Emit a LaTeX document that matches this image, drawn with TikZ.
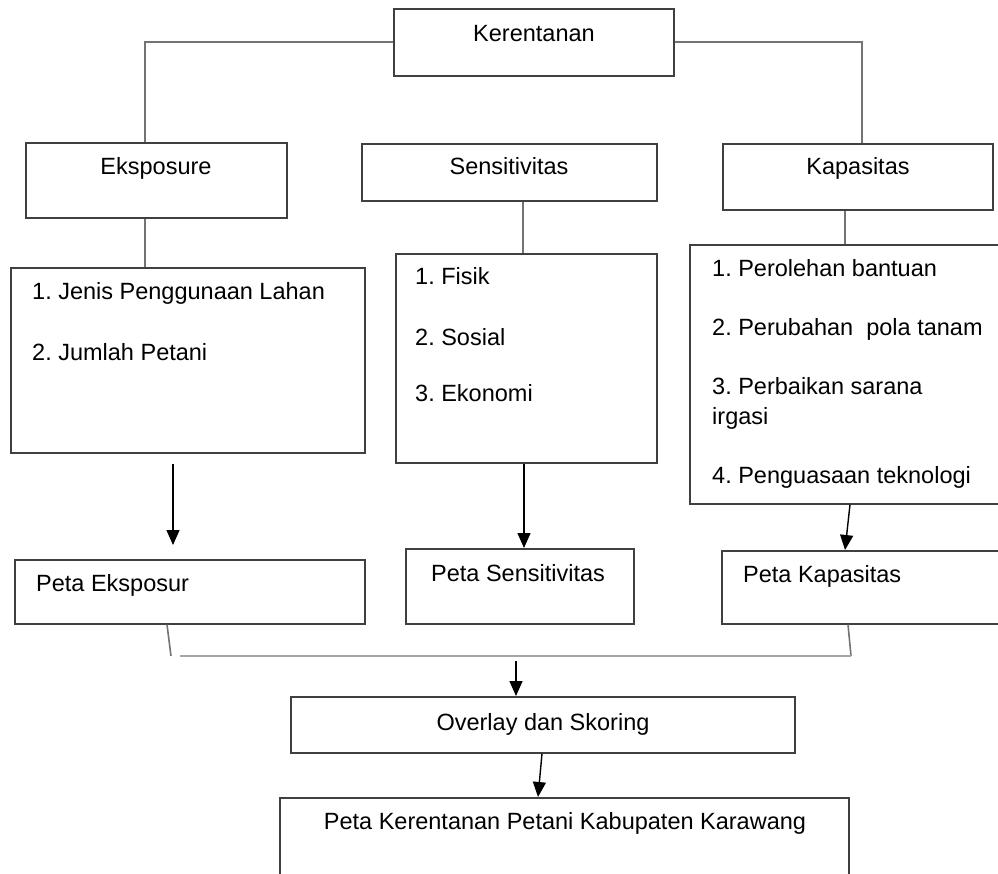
\documentclass[tikz,border=0pt]{standalone}
\usepackage{fontspec}
\setmainfont{Liberation Sans}
\usetikzlibrary{arrows.meta,calc}
\frenchspacing
\begin{document}
\begin{tikzpicture}[x=1pt,y=-1pt,
  box/.style={draw=black!75, line width=1.6pt, inner sep=0pt, anchor=north west},
  lbl/.style={inner sep=0pt, font=\fontsize{23.5}{28}\selectfont},
  conn/.style={draw=black!55, line width=1.6pt},
  arr/.style={draw=black, line width=1.4pt, -{Triangle[length=15pt,width=13pt]}},
  merge/.style={draw=black!35, line width=2.6pt}]
\useasboundingbox (0,0) rectangle (998,874);
\clip (0,0) rectangle (998,874);

% boxes
\node[box, minimum width=280pt, minimum height=67pt] (ker) at (393,8) {};
\node[box, minimum width=261pt, minimum height=75pt] (eks) at (25,142) {};
\node[box, minimum width=295pt, minimum height=57pt] (sen) at (361,143) {};
\node[box, minimum width=270pt, minimum height=66pt] (kap) at (722,143) {};
\node[box, minimum width=354pt, minimum height=185pt] (eksL) at (10,267) {};
\node[box, minimum width=261pt, minimum height=209pt] (senL) at (395,253) {};
\node[box, minimum width=320pt, minimum height=259pt] (kapL) at (689,244) {};
\node[box, minimum width=350pt, minimum height=64pt] (peks) at (14,559) {};
\node[box, minimum width=228pt, minimum height=75pt] (psen) at (405,548) {};
\node[box, minimum width=290pt, minimum height=73pt] (pkap) at (721,550) {};
\node[box, minimum width=504pt, minimum height=56pt] (ovl) at (290,696) {};
\node[box, minimum width=569pt, minimum height=120pt] (fin) at (279,797) {};

% texts
\node[lbl, anchor=base] (kerT) at (534,42) {Kerentanan};
\node[lbl, anchor=base] (eksT) at (156,175) {Eksposure};
\node[lbl, anchor=base] (senT) at (509,175) {Sensitivitas};
\node[lbl, anchor=base] (kapT) at (858,175) {Kapasitas};

\node[lbl, anchor=base west] (e1) at (32,300) {1. Jenis Penggunaan Lahan};
\node[lbl, anchor=base west] (e2) at (32,360) {2. Jumlah Petani};

\node[lbl, anchor=base west] (s1) at (415,285) {1. Fisik};
\node[lbl, anchor=base west] (s2) at (415,345) {2. Sosial};
\node[lbl, anchor=base west] (s3) at (415,401) {3. Ekonomi};

\node[lbl, anchor=base west] (k1) at (712,277) {1. Perolehan bantuan};
\node[lbl, anchor=base west] (k2) at (712,335) {2. Perubahan\ \ pola tanam};
\node[lbl, anchor=base west] (k3) at (712,394) {3. Perbaikan sarana};
\node[lbl, anchor=base west] (k3b) at (712,424) {irgasi};
\node[lbl, anchor=base west] (k4) at (712,483) {4. Penguasaan teknologi};

\node[lbl, anchor=base west] (pekT) at (36,591) {Peta Eksposur};
\node[lbl, anchor=base west] (psenT) at (431,581) {Peta Sensitivitas};
\node[lbl, anchor=base west] (pkapT) at (743,582) {Peta Kapasitas};

\node[lbl, anchor=base] (ovlT) at (543,730) {Overlay dan Skoring};
\node[lbl, anchor=base] (finT) at (565,829) {Peta Kerentanan Petani Kabupaten Karawang};

% connectors
\draw[conn] (ker.west) -| ($(eks.north west)+(120,0)$);
\draw[conn] (ker.east) -| ($(kap.north west)+(140,0)$);
\draw[conn] ($(eks.south west)+(120,0)$) -- ($(eksL.north west)+(135,0)$);
\draw[conn] ($(sen.south west)+(162,0)$) -- ($(senL.north west)+(128,0)$);
\draw[conn] ($(kap.south west)+(123,0)$) -- ($(kapL.north west)+(156,0)$);

% arrows
\draw[arr] ($(eksL.south west)+(163,10)$) -- ($(peks.north west)+(159,-14)$);
\draw[arr] ($(senL.south west)+(129,0)$) -- ($(psen.north west)+(119,0)$);
\draw[arr] ($(kapL.south west)+(161,0)$) -- ($(pkap.north west)+(124,0)$);

% merge
\coordinate (mL) at (171,656);
\coordinate (mS) at (180,656);
\coordinate (mR) at (851,656);
\coordinate (mA) at (516,661);
\draw[conn] ($(peks.south west)+(153,0)$) -- (mL);
\draw[conn] ($(pkap.south west)+(127,0)$) -- (mR);
\draw[merge] (mS) -- (mR);
\draw[arr] (mA) -- (mA |- ovl.north);
\draw[arr] ($(ovl.south west)+(252,0)$) -- ($(fin.north west)+(259,0)$);
\end{tikzpicture}
\end{document}
